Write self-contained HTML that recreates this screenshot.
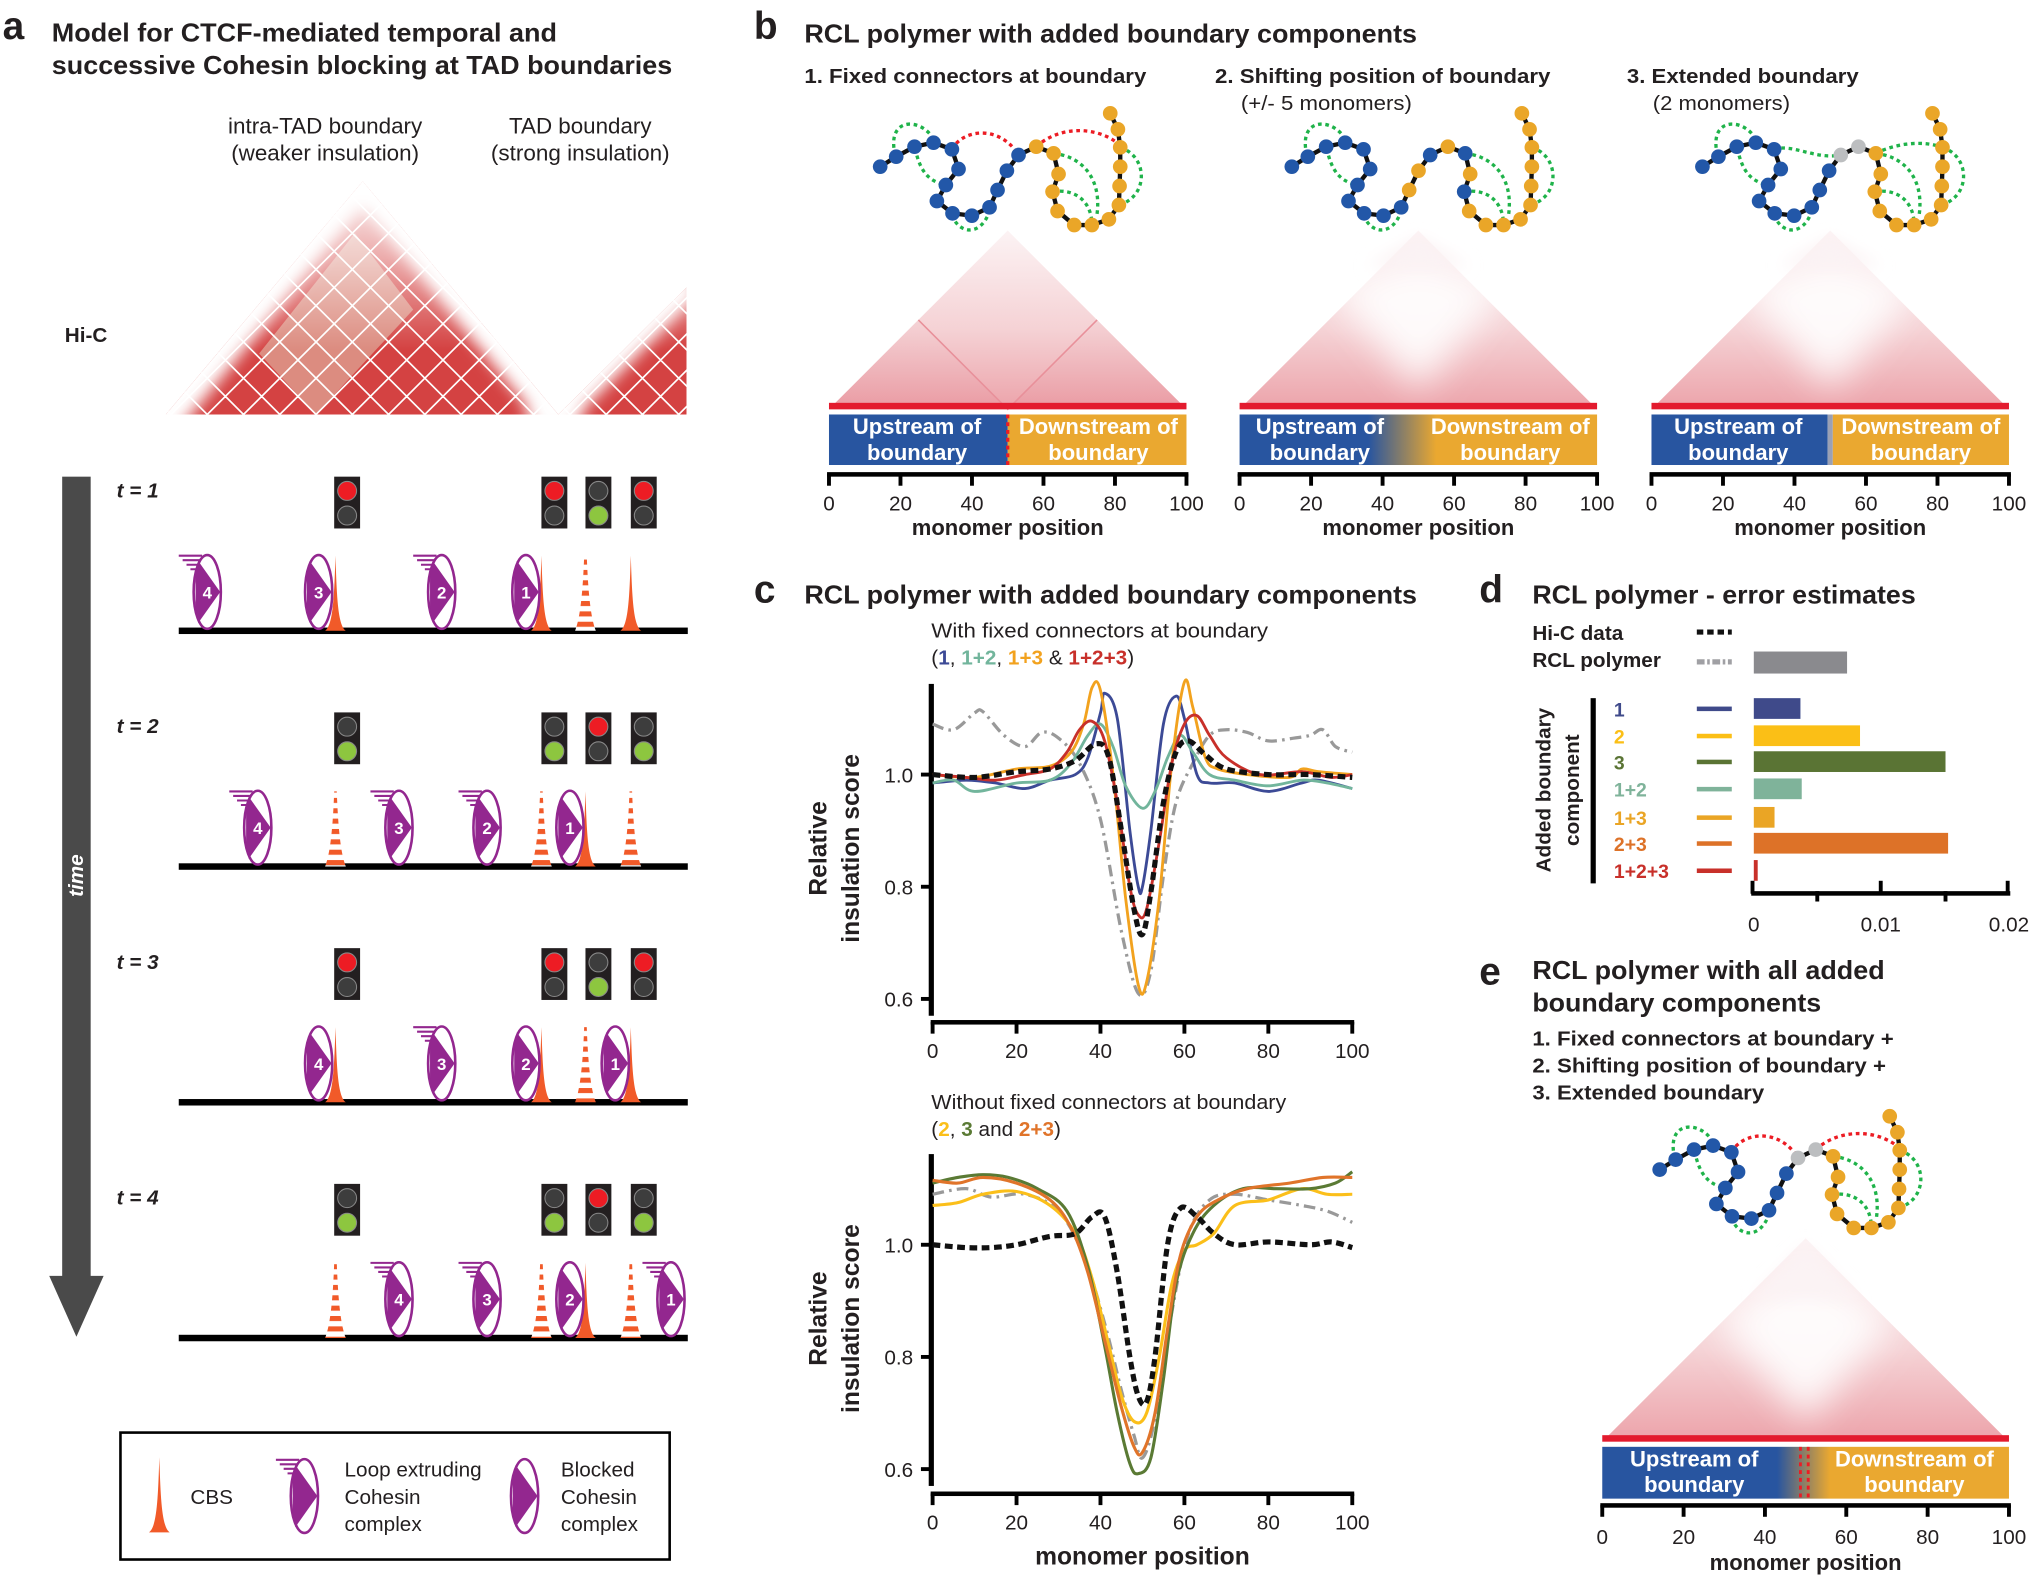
<!DOCTYPE html>
<html><head><meta charset="utf-8">
<style>
html,body{margin:0;padding:0;background:#fff;}
svg{display:block;}
text{font-family:"Liberation Sans",Arial,sans-serif;fill:#231f20;}
</style></head>
<body>
<svg id="s" xmlns="http://www.w3.org/2000/svg" width="2031" height="1577" viewBox="0 0 1568 1217.5">
<defs>
<pattern id="stripe" patternUnits="userSpaceOnUse" width="20" height="8">
<rect width="20" height="4" fill="#f15a29"/><rect y="4" width="20" height="4" fill="#fff"/>
</pattern>
<linearGradient id="hicg" x1="0" y1="0" x2="0" y2="1">
<stop offset="0" stop-color="#fcf3f4"/><stop offset="0.55" stop-color="#f5d2d5"/><stop offset="1" stop-color="#eca3aa"/>
</linearGradient>
<linearGradient id="subg" x1="0" y1="0" x2="0" y2="1">
<stop offset="0" stop-color="#f4d2d5"/><stop offset="1" stop-color="#e8959e"/>
</linearGradient>
<linearGradient id="fadeA" x1="0" y1="0" x2="0" y2="1">
<stop offset="0" stop-color="#fff" stop-opacity="1"/><stop offset="0.35" stop-color="#fff" stop-opacity="0.55"/><stop offset="0.7" stop-color="#fff" stop-opacity="0"/>
</linearGradient>
<linearGradient id="bo2" x1="0" y1="0" x2="1" y2="0">
<stop offset="0" stop-color="#2855a0"/><stop offset="0.36" stop-color="#2855a0"/><stop offset="0.55" stop-color="#eaa830"/><stop offset="1" stop-color="#eaa830"/>
</linearGradient>
<linearGradient id="boe" x1="0" y1="0" x2="1" y2="0">
<stop offset="0" stop-color="#2855a0"/><stop offset="0.43" stop-color="#2855a0"/><stop offset="0.56" stop-color="#eaa830"/><stop offset="1" stop-color="#eaa830"/>
</linearGradient>
<filter id="blur15" x="-50%" y="-50%" width="200%" height="200%"><feGaussianBlur stdDeviation="14"/></filter>
<filter id="blur6" x="-50%" y="-50%" width="200%" height="200%"><feGaussianBlur stdDeviation="6"/></filter>
<clipPath id="hcA"><polygon points="128,320 280,140 431,320"/><polygon points="431,320 530,222 530,320"/></clipPath>
</defs>
<g id="root"></g>
</svg>
<script>
var o=[];
function T(x,y,s,opt){opt=opt||{};var a='<text x="'+x+'" y="'+y+'" font-size="'+(opt.fs||16)+'"';
if(opt.b)a+=' font-weight="bold"';if(opt.i)a+=' font-style="italic"';if(opt.anchor)a+=' text-anchor="'+opt.anchor+'"';
if(opt.fill)a+=' style="fill:'+opt.fill+'"';if(opt.tl)a+=' textLength="'+opt.tl+'" lengthAdjust="spacingAndGlyphs"';
if(opt.tr)a+=' transform="'+opt.tr+'"';o.push(a+'>'+s+'</text>');}
T(2,30,'a',{fs:30,b:1});T(582,30,'b',{fs:30,b:1});T(582,465,'c',{fs:30,b:1});T(1142,465,'d',{fs:30,b:1});T(1142,760,'e',{fs:30,b:1});
// ---------- panel a ----------
T(40,32,'Model for CTCF-mediated temporal and',{fs:20,b:1,tl:390});
T(40,57,'successive Cohesin blocking at TAD boundaries',{fs:20,b:1,tl:479});
T(251,103,'intra-TAD boundary',{fs:17,anchor:'middle',tl:150});
T(251,124,'(weaker insulation)',{fs:17,anchor:'middle',tl:145});
T(448,103,'TAD boundary',{fs:17,anchor:'middle',tl:110});
T(448,124,'(strong insulation)',{fs:17,anchor:'middle',tl:138});
T(50,264,'Hi-C',{fs:16,b:1});
o.push('<g clip-path="url(#hcA)">');
o.push('<rect x="120" y="130" width="420" height="200" fill="#d44242"/>');
o.push('<polygon points="200,273 274,180 319,239 244,320" fill="#dc8c80"/>');
o.push('<polygon points="200,273 244,320 180,320" fill="#d44242"/>');
o.push('<rect x="120" y="130" width="420" height="200" fill="url(#fadeA)"/>');
o.push('<g filter="url(#blur6)"><polyline points="120,330 280,135 440,330" fill="none" stroke="#fff" stroke-width="30"/><polyline points="415,330 530,215" fill="none" stroke="#fff" stroke-width="30"/></g>');
var gl='';for(var c=-400;c<900;c+=28){gl+='M'+(c)+',320 L'+(c+200)+',120 M'+(c)+',320 L'+(c-200)+',120 ';}
o.push('<path d="'+gl+'" stroke="#fff" stroke-width="1.3" fill="none"/>');
o.push('</g>');
o.push('<rect x="48" y="368" width="22" height="618" fill="#4a4a4a"/><polygon points="38,985 80,985 59,1032" fill="#4a4a4a"/>');
T(0,0,'time',{fs:16,b:1,i:1,anchor:'middle',fill:'#fff',tr:'translate(64,676) rotate(-90)'});
function light(x,y,top,bot){o.push('<rect x="'+(x-10)+'" y="'+y+'" width="20" height="40" fill="#231f20"/>');
o.push('<circle cx="'+x+'" cy="'+(y+11)+'" r="7.3" fill="'+top+'" stroke="#888" stroke-width="0.8"/>');
o.push('<circle cx="'+x+'" cy="'+(y+30)+'" r="7.3" fill="'+bot+'" stroke="#888" stroke-width="0.8"/>');}
var R='#ed1c24',G='#8dc63f',D='#3d3d3d';
function cbs(x,y){o.push('<path d="M'+(x-8)+','+y+' C'+(x-2)+','+(y-4)+' '+(x-1)+','+(y-25)+' '+x+','+(y-58)+' C'+(x+1)+','+(y-25)+' '+(x+2)+','+(y-4)+' '+(x+8)+','+y+' Z" fill="#f15a29"/>');}
function cbsd(x,y){o.push('<path d="M'+(x-8)+','+y+' C'+(x-4)+','+(y-10)+' '+(x-2)+','+(y-30)+' '+(x-1)+','+(y-58)+' L'+(x+1)+','+(y-58)+' C'+(x+2)+','+(y-30)+' '+(x+4)+','+(y-10)+' '+(x+8)+','+y+' Z" fill="url(#stripe)"/>');}
function coh(x,y,n,loop){var cy=y-30;
if(loop){o.push('<path d="M'+(x-22)+','+(cy-28)+' h18 M'+(x-19)+','+(cy-24.5)+' h15 M'+(x-16)+','+(cy-21)+' h12 M'+(x-13)+','+(cy-17.5)+' h9" stroke="#93278f" stroke-width="1.6"/>');}
o.push('<ellipse cx="'+x+'" cy="'+cy+'" rx="10.5" ry="28.5" fill="#fff" stroke="#93278f" stroke-width="2"/>');
o.push('<polygon points="'+(x-7)+','+(cy-24)+' '+(x+10)+','+cy+' '+(x-7)+','+(cy+24)+' '+(x-9)+','+(cy+12)+' '+(x-9)+','+(cy-12)+'" fill="#93278f"/>');
if(n)T(x,cy+5,n,{fs:13,b:1,anchor:'middle',fill:'#fff'});}
var rows=[487,669,851,1033];
rows.forEach(function(b,i){o.push('<rect x="138" y="'+(b-2.5)+'" width="393" height="5" fill="#000"/>');T(90,b-103,'t = '+(i+1),{fs:16,b:1,i:1});});
var L=[[R,D,R,D,D,G,R,D],[D,G,D,G,R,D,D,G],[R,D,R,D,D,G,R,D],[D,G,D,G,R,D,D,G]];
rows.forEach(function(b,i){var y=b-119,l=L[i];light(268,y,l[0],l[1]);light(428,y,l[2],l[3]);light(462,y,l[4],l[5]);light(497,y,l[6],l[7]);});
var b=487;cbs(259,b);cbs(418,b);cbsd(452,b);cbs(487,b);coh(160,b,'4',1);coh(246,b,'3',0);coh(341,b,'2',1);coh(406,b,'1',0);
b=669;cbsd(259,b);cbsd(418,b);cbs(452,b);cbsd(487,b);coh(199,b,'4',1);coh(308,b,'3',1);coh(376,b,'2',1);coh(440,b,'1',0);
b=851;cbs(259,b);cbs(418,b);cbsd(452,b);cbs(487,b);coh(246,b,'4',0);coh(341,b,'3',1);coh(406,b,'2',0);coh(475,b,'1',0);
b=1033;cbsd(259,b);cbsd(418,b);cbs(452,b);cbsd(487,b);coh(308,b,'4',1);coh(376,b,'3',1);coh(440,b,'2',0);coh(518,b,'1',1);
o.push('<rect x="93" y="1106" width="424" height="98" fill="none" stroke="#000" stroke-width="2"/>');
cbs(123,1183);T(147,1161,'CBS',{fs:16});coh(235,1185,'',1);coh(405,1185,'',0);
T(266,1140,'Loop extruding',{fs:16});T(266,1161,'Cohesin',{fs:16});T(266,1182,'complex',{fs:16});
T(433,1140,'Blocked',{fs:16});T(433,1161,'Cohesin',{fs:16});T(433,1182,'complex',{fs:16});
// ---------- panel b ----------
T(621,33,'RCL polymer with added boundary components',{fs:20,b:1,tl:473});
T(621,64,'1. Fixed connectors at boundary',{fs:16,b:1,tl:264});
T(938,64,'2. Shifting position of boundary',{fs:16,b:1,tl:259});T(958,85,'(+/- 5 monomers)',{fs:16,tl:132});
T(1256,64,'3. Extended boundary',{fs:16,b:1,tl:179});T(1276,85,'(2 monomers)',{fs:16,tl:106});
var blue=[[180,200],[228,170],[283,140],[340,128],[395,148],[415,207],[377,255],[350,303],[397,340],[455,347],[508,322],[532,270],[560,212],[595,165]];
var orng=[[648,140],[700,160],[715,222],[697,275],[712,333],[762,375],[815,375],[866,358],[896,315],[898,258],[900,200],[900,142],[893,88],[870,40]];
function polymer(tx,ty,mode){var all=blue.concat(orng);var s='<g transform="translate('+tx+','+ty+') scale(0.2574)">';
var gs='stroke="#1fb34a" stroke-width="10" stroke-dasharray="11,11" fill="none"';
s+='<path d="M225,165 C195,40 320,55 345,130 M285,145 C300,220 330,245 377,255 M395,345 C420,410 490,405 510,325 M700,160 C790,170 845,240 830,345 M697,275 C760,265 815,300 815,375 M900,142 C985,170 985,290 896,315" '+gs+'/>';
if(mode==1||mode==4){s+='<path d="M395,148 C430,85 540,75 595,165 M648,140 C720,75 830,80 893,130" stroke="#ec1c24" stroke-width="10" stroke-dasharray="11,11" fill="none"/>';}
if(mode==3){s+='<path d="M395,148 C450,130 520,180 595,165 M700,160 C760,130 840,120 900,142" '+gs+'/>';}
s+='<polyline points="'+all.map(function(p){return p.join(',')}).join(' ')+'" fill="none" stroke="#111" stroke-width="13"/>';
all.forEach(function(p,i){var col=i<blue.length?'#2257a8':'#eaa628';
if(mode==2&&(i==11||i==12||i==15||i==17))col=(i<14)?'#eaa628':'#2257a8';
if((mode==3||mode==4)&&(i==13||i==14))col='#bcbec0';
s+='<circle cx="'+p[0]+'" cy="'+p[1]+'" r="22" fill="'+col+'"/>';});
o.push(s+'</g>');}
polymer(633.2,77.2,1);polymer(951,77.2,2);polymer(1268,77.2,3);polymer(1235,851.5,4);
function hic(x0,x1,by,ay,mode){var xm=(x0+x1)/2;
o.push('<polygon points="'+x0+','+by+' '+xm+','+ay+' '+x1+','+by+'" fill="url(#hicg)"/>');
if(mode==1){var h=(by-ay)/2;o.push('<polygon points="'+x0+','+by+' '+((x0+xm)/2)+','+(by-h)+' '+xm+','+by+'" fill="url(#subg)" opacity="0.6"/>');
o.push('<polygon points="'+xm+','+by+' '+((xm+x1)/2)+','+(by-h)+' '+x1+','+by+'" fill="url(#subg)" opacity="0.6"/>');
o.push('<path d="M'+((x0+xm)/2)+','+(by-h)+' L'+xm+','+by+' L'+((xm+x1)/2)+','+(by-h)+'" stroke="#e8909a" stroke-width="1.2" fill="none"/>');}
else{o.push('<polygon points="'+(xm-70)+','+(by-95)+' '+xm+','+(ay+20)+' '+(xm+70)+','+(by-95)+' '+xm+','+(by-15)+'" fill="#fff" filter="url(#blur15)" opacity="0.9"/>');
o.push('<polygon points="'+(xm-40)+','+(by-110)+' '+xm+','+(ay+5)+' '+(xm+40)+','+(by-110)+'" fill="#fbf3f4" filter="url(#blur6)"/>');}
o.push('<rect x="'+x0+'" y="'+(by-5)+'" width="'+(x1-x0)+'" height="5" fill="#e31b2e"/>');}
function bar(x0,x1,y0,y1,fill){o.push('<rect x="'+x0+'" y="'+y0+'" width="'+(x1-x0)+'" height="'+(y1-y0)+'" fill="'+fill+'"/>');}
function labels(x0,x1,y0,lx,rx){T(lx,y0+15,'Upstream of',{fs:17,b:1,anchor:'middle',fill:'#fff'});T(lx,y0+35,'boundary',{fs:17,b:1,anchor:'middle',fill:'#fff'});
T(rx,y0+15,'Downstream of',{fs:17,b:1,anchor:'middle',fill:'#fff'});T(rx,y0+35,'boundary',{fs:17,b:1,anchor:'middle',fill:'#fff'});}
function xaxis(x0,x1,y,ly,my,mfs){o.push('<rect x="'+(x0-1.5)+'" y="'+(y-1.5)+'" width="'+(x1-x0+3)+'" height="3.5" fill="#000"/>');
for(var k=0;k<=5;k++){var x=x0+(x1-x0)*k/5;o.push('<rect x="'+(x-1.5)+'" y="'+y+'" width="3" height="9" fill="#000"/>');T(x,ly,String(k*20),{fs:16,anchor:'middle'});}
if(my)T((x0+x1)/2,my,'monomer position',{fs:mfs||17,b:1,anchor:'middle'});}
hic(640,916,316,178,1);bar(640,778,320,359,'#2855a0');bar(778,916,320,359,'#eaa830');
o.push('<line x1="778" y1="320" x2="778" y2="359" stroke="#ec1c24" stroke-width="2.5" stroke-dasharray="3,3"/>');labels(640,916,320,708,848);xaxis(640,916,366,394,413);
hic(957,1233,316,178,2);bar(957,1233,320,359,'url(#bo2)');labels(957,1233,320,1019,1166);xaxis(957,1233,366,394,413);
hic(1275,1551,316,178,3);bar(1275,1411,320,359,'#2855a0');bar(1411,1415,320,359,'#9aa0b4');bar(1415,1551,320,359,'#eaa830');labels(1275,1551,320,1342,1483);xaxis(1275,1551,366,394,413);
hic(1237,1551,1113,956,4);bar(1237,1551,1117,1157,'url(#boe)');
o.push('<path d="M1390,1117 V1157 M1396,1117 V1157" stroke="#ec1c24" stroke-width="2.2" stroke-dasharray="3,3"/>');
labels(1237,1551,1117,1308,1478);xaxis(1237,1551,1162,1192,1212);
// ---------- panel c ----------
T(621,466,'RCL polymer with added boundary components',{fs:20,b:1,tl:473});
T(719,492,'With fixed connectors at boundary',{fs:16,tl:260});
o.push('<text x="719" y="513" font-size="16">(<tspan style="fill:#3c4a96" font-weight="bold">1</tspan>, <tspan style="fill:#72b59c" font-weight="bold">1+2</tspan>, <tspan style="fill:#f2a21e" font-weight="bold">1+3</tspan> &amp; <tspan style="fill:#c8302a" font-weight="bold">1+2+3</tspan>)</text>');
T(719,856,'Without fixed connectors at boundary',{fs:16,tl:274});
o.push('<text x="719" y="877" font-size="16">(<tspan style="fill:#fbbf1a" font-weight="bold">2</tspan>, <tspan style="fill:#5a7a34" font-weight="bold">3</tspan> and <tspan style="fill:#e0742a" font-weight="bold">2+3</tspan>)</text>');
function yaxis(y1v){
o.push('<rect x="717" y="'+(y1v-70)+'" width="4" height="'+(70+(0.4*433)+13)+'" fill="#000"/>');
[1.0,0.8,0.6].forEach(function(v){var y=y1v-(v-1)*433;o.push('<rect x="711" y="'+(y-1.5)+'" width="8" height="3" fill="#000"/>');T(705,y+6,v.toFixed(1),{fs:16,anchor:'end'});});
T(0,0,'Relative',{fs:19,b:1,anchor:'middle',tr:'translate(638,'+(y1v+57)+') rotate(-90)'});
T(0,0,'insulation score',{fs:19,b:1,anchor:'middle',tr:'translate(663,'+(y1v+57)+') rotate(-90)'});}
yaxis(598);yaxis(961);
xaxis(720,1044,789,817,null);xaxis(720,1044,1153,1181,1208,19);
function cr(pts){var d='M'+pts[0][0].toFixed(1)+','+pts[0][1].toFixed(1);for(var i=0;i<pts.length-1;i++){var p0=pts[i-1]||pts[i],p1=pts[i],p2=pts[i+1],p3=pts[i+2]||p2;
d+=' C'+(p1[0]+(p2[0]-p0[0])/6).toFixed(1)+','+(p1[1]+(p2[1]-p0[1])/6).toFixed(1)+' '+(p2[0]-(p3[0]-p1[0])/6).toFixed(1)+','+(p2[1]-(p3[1]-p1[1])/6).toFixed(1)+' '+p2[0].toFixed(1)+','+p2[1].toFixed(1);}return d;}
function curve(data,y1v,col,w,dash){var pts=[];for(var i=0;i<data.length;i+=2){pts.push([720+3.24*data[i],y1v-(data[i+1]-1)*433]);}
o.push('<path d="'+cr(pts)+'" fill="none" stroke="'+col+'" stroke-width="'+w+'"'+(dash?' stroke-dasharray="'+dash+'"':'')+' stroke-linejoin="round"/>');}
var hic1=[0,1.0,10,0.995,20,1.005,28,1.01,34,1.025,39,1.055,42,1.03,45,0.9,48,0.76,50,0.715,52,0.79,55,0.95,58,1.04,61,1.06,65,1.035,70,1.01,80,1.0,90,1.0,100,0.995];
var gray1=[0,1.09,5,1.08,10,1.11,12,1.112,17,1.07,22,1.05,26,1.075,30,1.065,35,1.02,40,0.92,45,0.72,49,0.61,52,0.65,55,0.82,58,0.95,62,1.02,66,1.07,70,1.08,75,1.075,80,1.06,86,1.065,90,1.07,93,1.08,96,1.05,100,1.04];
curve(gray1,598,'#999',2.5,'9,4,2,4');
curve([0,0.985,8,0.99,15,0.985,22,0.975,28,0.99,34,1.0,37,1.03,40,1.11,41,1.145,44,1.1,47,0.9,49,0.8,50,0.8,52,0.9,55,1.09,58,1.14,60,1.1,63,1.0,66,0.985,72,0.985,80,0.97,88,0.985,92,0.99,100,0.975],598,'#3c4a96',2.2);
curve([0,0.985,5,0.99,10,0.97,20,0.985,28,0.99,33,1.02,37,1.07,40,1.09,43,1.05,46,0.98,50,0.94,53,0.97,56,1.03,59,1.07,62,1.04,66,1.0,72,0.99,80,0.98,88,0.99,94,0.985,100,0.975],598,'#72b59c',2.2);
curve([0,1.0,10,0.995,20,1.01,28,1.015,33,1.04,36,1.09,38,1.155,40,1.15,43,1.0,46,0.78,49,0.625,51,0.63,54,0.78,57,1.02,60,1.165,62,1.12,65,1.03,68,1.01,75,1.0,85,0.995,88,1.01,92,1.005,100,1.0],598,'#f2a21e',2.2);
curve([0,1.0,8,0.995,15,0.99,22,1.0,28,1.01,32,1.04,35,1.08,38,1.095,41,1.06,44,0.95,47,0.8,49,0.75,51,0.76,54,0.88,57,1.02,60,1.09,63,1.105,66,1.07,70,1.03,78,1.0,88,1.005,95,0.995,100,1.0],598,'#c8302a',2.2);
curve(hic1,598,'#111',4,'6,3.5');
var hic2=[0,1.0,8,0.995,14,0.995,20,1.0,28,1.015,34,1.02,38,1.05,41,1.05,44,0.95,47,0.8,49,0.73,51,0.72,53,0.8,56,1.0,59,1.065,63,1.05,67,1.02,72,1.0,80,1.005,90,1.0,95,1.005,100,0.995];
curve([0,1.09,8,1.1,14,1.085,22,1.09,30,1.06,36,0.98,41,0.86,45,0.74,48,0.66,50,0.62,53,0.69,57,0.88,61,1.02,66,1.08,72,1.09,80,1.08,88,1.07,94,1.06,100,1.04],961,'#999',2.5,'9,4,2,4');
curve([0,1.07,6,1.075,12,1.09,20,1.095,28,1.07,34,1.02,38,0.94,42,0.82,45,0.73,48,0.685,51,0.7,54,0.8,57,0.93,60,0.99,63,1.0,67,1.02,72,1.07,80,1.08,88,1.1,94,1.09,100,1.09],961,'#fbbf1a',2.4);
curve([0,1.11,6,1.12,12,1.125,18,1.12,25,1.1,32,1.06,37,0.96,41,0.82,44,0.7,47,0.61,49,0.592,52,0.62,55,0.76,58,0.93,62,1.02,67,1.07,74,1.1,82,1.1,90,1.1,96,1.11,100,1.13],961,'#5a7a34',2.4);
curve([0,1.115,6,1.11,12,1.12,20,1.11,28,1.08,33,1.03,37,0.95,41,0.83,45,0.71,48,0.64,50,0.63,53,0.7,56,0.85,59,0.98,63,1.05,68,1.08,75,1.1,85,1.11,93,1.12,100,1.12],961,'#e0742a',2.4);
curve(hic2,961,'#111',4,'6,3.5');
// ---------- panel d ----------
T(1183,466,'RCL polymer - error estimates',{fs:20,b:1,tl:296});
T(1183,494,'Hi-C data',{fs:16,b:1});T(1183,515,'RCL polymer',{fs:16,b:1});
o.push('<line x1="1310" y1="488" x2="1337" y2="488" stroke="#111" stroke-width="4" stroke-dasharray="5,3"/>');
o.push('<line x1="1310" y1="511" x2="1337" y2="511" stroke="#a0a0a4" stroke-width="4" stroke-dasharray="6,2,2,2"/>');
o.push('<rect x="1354" y="503" width="72" height="17" fill="#8a8a8e"/>');
var rowsd=[['1','#3f4a8a',547,1390],['2','#fbbf16',568,1436],['3','#5a7434',588,1502],['1+2','#7fb39a',609,1391],['1+3','#eaa525',631,1370],['2+3','#dd7228',651,1504],['1+2+3','#c8302a',672,1357]];
rowsd.forEach(function(r){T(1246,r[2]+6,r[0],{fs:15,b:1,fill:r[1]});o.push('<rect x="1310" y="'+(r[2]-1.5)+'" width="27" height="3.5" fill="'+r[1]+'"/>');
o.push('<rect x="1354" y="'+(r[2]-8)+'" width="'+(r[3]-1354)+'" height="16" fill="'+r[1]+'"/>');});
o.push('<rect x="1228" y="539" width="4" height="143" fill="#000"/>');
T(0,0,'Added boundary',{fs:16,b:1,anchor:'middle',tr:'translate(1197,610) rotate(-90)'});
T(0,0,'component',{fs:16,b:1,anchor:'middle',tr:'translate(1219,610) rotate(-90)'});
o.push('<rect x="1352" y="688" width="200" height="3.5" fill="#000"/>');
[1353,1403,1452,1502,1550].forEach(function(x,i){o.push('<rect x="'+(x-1.5)+'" y="'+(i%2?688:680)+'" width="3" height="'+(i%2?8:10)+'" fill="#000"/>');});
T(1354,719,'0',{fs:16,anchor:'middle'});T(1452,719,'0.01',{fs:16,anchor:'middle'});T(1551,719,'0.02',{fs:16,anchor:'middle'});
// ---------- panel e ----------
T(1183,756,'RCL polymer with all added',{fs:20,b:1,tl:272});T(1183,781,'boundary components',{fs:20,b:1,tl:223});
T(1183,807,'1. Fixed connectors at boundary +',{fs:16,b:1,tl:279});
T(1183,828,'2. Shifting position of boundary +',{fs:16,b:1,tl:273});
T(1183,849,'3. Extended boundary',{fs:16,b:1,tl:179});
document.getElementById('root').innerHTML=o.join('');
</script>
</body></html>
